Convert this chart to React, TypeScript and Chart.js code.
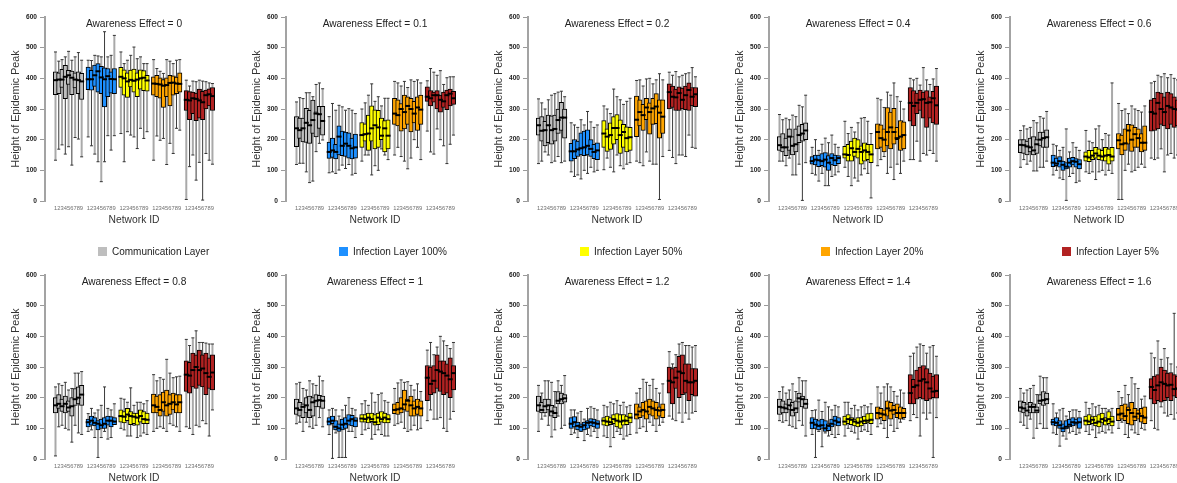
import React, { useEffect, useRef } from 'react';
import { Chart, registerables } from 'chart.js';

Chart.register(...registerables);

const FONT = '"Liberation Sans", Arial, Helvetica, sans-serif';
Chart.defaults.font.family = FONT;

// ---------- labels ----------
const groupNames = ['Communication Layer', 'Infection Layer 100%', 'Infection Layer 50%', 'Infection Layer 20%', 'Infection Layer 5%'];
const groupColors = ['#BEBEBE', '#1E90FF', '#FFFF00', '#FFA500', '#B22222'];
const networkIds = ['1', '2', '3', '4', '5', '6', '7', '8', '9'];
const awarenessEffects = ['0', '0.1', '0.2', '0.4', '0.6', '0.8', '1', '1.2', '1.4', '1.6'];
const yTickValues = [0, 100, 200, 300, 400, 500, 600];
const yTitle = 'Height of Epidemic Peak';
const xTitle = 'Network ID';

type Stats = { lo: number[]; q1: number[]; med: number[]; q3: number[]; hi: number[] };

// ---------- Awareness Effect = 0 ----------
const ae00_comm: Stats = { lo: [133, 169, 183, 153, 177, 117, 207, 202, 144], q1: [347, 350, 370, 334, 380, 347, 369, 350, 331], med: [394, 396, 396, 405, 410, 402, 396, 394, 390], q3: [421, 418, 429, 442, 426, 424, 418, 421, 416], hi: [486, 456, 461, 470, 488, 459, 470, 484, 459] };
const ae00_i100: Stats = { lo: [209, 180, 153, 128, 63, 128, 213, 166, 213], q1: [363, 361, 374, 355, 350, 307, 340, 352, 350], med: [397, 397, 410, 423, 403, 397, 407, 398, 397], q3: [437, 426, 443, 448, 439, 434, 432, 421, 432], hi: [459, 458, 475, 473, 470, 552, 470, 475, 540] };
const ae00_i50: Stats = { lo: [220, 128, 226, 215, 209, 171, 237, 204, 226], q1: [370, 345, 338, 372, 355, 340, 365, 360, 358], med: [405, 400, 390, 395, 392, 396, 400, 402, 393], q3: [436, 428, 418, 427, 430, 418, 428, 425, 410], hi: [486, 448, 459, 475, 502, 464, 470, 448, 448] };
const ae00_i20: Stats = { lo: [133, 212, 198, 204, 119, 188, 155, 237, 231], q1: [345, 340, 335, 305, 340, 310, 345, 350, 355], med: [383, 382, 380, 376, 378, 385, 386, 383, 382], q3: [405, 410, 402, 396, 402, 410, 408, 404, 418], hi: [461, 432, 423, 416, 461, 456, 448, 459, 461] };
const ae00_i5: Stats = { lo: [5, 112, 150, 68, 126, 3, 155, 133, 120], q1: [295, 265, 285, 262, 270, 265, 300, 310, 295], med: [330, 328, 335, 333, 328, 322, 345, 348, 342], q3: [360, 357, 355, 352, 365, 358, 362, 366, 370], hi: [394, 375, 391, 389, 394, 391, 389, 385, 383] };

// ---------- Awareness Effect = 0.1 ----------
const ae01_comm: Stats = { lo: [119, 123, 123, 95, 60, 65, 161, 188, 199], q1: [177, 204, 193, 191, 188, 220, 209, 237, 215], med: [237, 231, 237, 255, 247, 264, 285, 283, 261], q3: [275, 270, 270, 302, 296, 329, 291, 309, 309], hi: [323, 337, 334, 353, 353, 340, 380, 385, 366] };
const ae01_i100: Stats = { lo: [92, 95, 90, 101, 117, 106, 119, 85, 90], q1: [139, 142, 137, 150, 148, 145, 140, 137, 140], med: [160, 165, 160, 210, 180, 187, 180, 172, 175], q3: [192, 205, 185, 245, 228, 225, 222, 205, 218], hi: [275, 318, 296, 312, 307, 296, 301, 296, 285] };
const ae01_i50: Stats = { lo: [130, 150, 150, 85, 115, 100, 170, 150, 135], q1: [175, 195, 165, 195, 170, 175, 200, 160, 170], med: [215, 218, 220, 237, 247, 240, 213, 237, 213], q3: [256, 252, 280, 310, 297, 296, 270, 262, 265], hi: [300, 320, 345, 382, 325, 340, 310, 335, 335] };
const ae01_i20: Stats = { lo: [150, 175, 145, 130, 105, 140, 200, 175, 135], q1: [250, 245, 228, 235, 250, 225, 255, 230, 250], med: [285, 280, 300, 290, 310, 300, 285, 305, 298], q3: [335, 330, 318, 345, 340, 335, 325, 340, 345], hi: [390, 385, 375, 390, 370, 395, 390, 395, 385] };
const ae01_i5: Stats = { lo: [228, 160, 153, 235, 200, 180, 122, 185, 215], q1: [325, 310, 322, 300, 290, 305, 298, 310, 315], med: [340, 335, 345, 345, 330, 325, 345, 350, 335], q3: [372, 360, 355, 360, 345, 355, 362, 365, 358], hi: [392, 432, 420, 410, 425, 380, 402, 405, 405] };

// ---------- Awareness Effect = 0.2 ----------
const ae02_comm: Stats = { lo: [122, 130, 160, 150, 125, 130, 145, 125, 130], q1: [215, 195, 180, 190, 185, 195, 220, 230, 205], med: [247, 229, 231, 247, 231, 235, 264, 272, 272], q3: [270, 275, 260, 280, 278, 280, 300, 322, 300], hi: [333, 320, 300, 330, 345, 350, 355, 358, 340] };
const ae02_i100: Stats = { lo: [95, 80, 85, 72, 100, 90, 110, 95, 100], q1: [130, 138, 145, 150, 148, 150, 145, 138, 135], med: [162, 162, 168, 172, 175, 180, 170, 160, 165], q3: [188, 200, 195, 222, 228, 232, 200, 185, 190], hi: [255, 248, 240, 265, 248, 292, 258, 240, 248] };
const ae02_i50: Stats = { lo: [102, 140, 110, 95, 150, 115, 105, 120, 125], q1: [175, 162, 168, 185, 200, 155, 175, 160, 165], med: [220, 210, 215, 238, 238, 215, 225, 205, 208], q3: [262, 235, 255, 275, 282, 265, 250, 242, 240], hi: [310, 300, 285, 365, 340, 330, 315, 325, 335] };
const ae02_i20: Stats = { lo: [130, 125, 115, 160, 130, 120, 120, 5, 145], q1: [210, 245, 230, 265, 218, 250, 252, 205, 220], med: [265, 290, 280, 305, 290, 302, 308, 288, 275], q3: [342, 330, 315, 335, 320, 335, 350, 330, 330], hi: [393, 395, 375, 398, 400, 382, 395, 415, 395] };
const ae02_i5: Stats = { lo: [165, 142, 122, 150, 150, 145, 215, 175, 172], q1: [300, 305, 295, 295, 300, 298, 295, 310, 308], med: [355, 340, 338, 352, 330, 345, 362, 340, 348], q3: [382, 375, 365, 372, 368, 375, 385, 370, 370], hi: [420, 410, 422, 405, 410, 415, 418, 435, 405] };

// ---------- Awareness Effect = 0.4 ----------
const ae04_comm: Stats = { lo: [130, 130, 115, 140, 85, 85, 120, 2, 125], q1: [165, 160, 148, 165, 150, 160, 190, 195, 200], med: [182, 175, 175, 210, 180, 185, 215, 220, 230], q3: [210, 220, 205, 235, 210, 235, 245, 250, 255], hi: [282, 265, 270, 265, 280, 275, 312, 307, 345] };
const ae04_i100: Stats = { lo: [90, 85, 65, 90, 50, 50, 80, 85, 95], q1: [120, 118, 112, 115, 110, 100, 118, 115, 122], med: [130, 135, 133, 130, 135, 125, 140, 133, 140], q3: [145, 150, 150, 155, 158, 148, 155, 150, 148], hi: [175, 200, 165, 185, 205, 190, 215, 185, 175] };
const ae04_i50: Stats = { lo: [110, 80, 50, 75, 65, 85, 105, 90, 10], q1: [140, 130, 130, 145, 140, 120, 130, 135, 125], med: [152, 150, 172, 160, 170, 160, 165, 160, 152], q3: [178, 185, 195, 205, 200, 180, 190, 185, 185], hi: [260, 220, 240, 225, 255, 270, 272, 260, 220] };
const ae04_i20: Stats = { lo: [115, 135, 145, 90, 110, 70, 120, 90, 130], q1: [170, 175, 160, 180, 170, 185, 200, 165, 170], med: [225, 205, 200, 225, 240, 225, 205, 210, 215], q3: [252, 248, 235, 305, 290, 302, 240, 262, 258], hi: [335, 330, 305, 355, 345, 385, 340, 325, 300] };
const ae04_i5: Stats = { lo: [135, 135, 195, 130, 155, 150, 165, 155, 130], q1: [260, 245, 285, 295, 270, 240, 270, 255, 250], med: [320, 310, 320, 330, 332, 320, 322, 335, 312], q3: [370, 360, 352, 362, 355, 360, 340, 358, 375], hi: [400, 395, 400, 378, 435, 395, 380, 398, 432] };

// ---------- Awareness Effect = 0.6 ----------
const ae06_comm: Stats = { lo: [110, 135, 120, 130, 98, 98, 110, 110, 130], q1: [158, 155, 150, 160, 150, 155, 180, 175, 175], med: [183, 182, 178, 175, 165, 185, 200, 205, 208], q3: [200, 200, 195, 205, 210, 200, 225, 225, 232], hi: [230, 245, 235, 240, 262, 255, 275, 270, 292] };
const ae06_i100: Stats = { lo: [85, 100, 75, 70, 2, 80, 90, 60, 65], q1: [112, 115, 110, 100, 105, 110, 118, 110, 105], med: [125, 122, 130, 118, 112, 125, 130, 128, 120], q3: [150, 140, 145, 130, 125, 140, 142, 138, 135], hi: [185, 180, 165, 175, 235, 160, 190, 175, 165] };
const ae06_i50: Stats = { lo: [95, 90, 95, 70, 95, 100, 85, 100, 90], q1: [130, 128, 135, 140, 135, 132, 130, 120, 130], med: [145, 142, 148, 155, 148, 145, 148, 150, 145], q3: [160, 165, 165, 175, 170, 165, 175, 170, 175], hi: [230, 195, 190, 235, 245, 200, 220, 215, 385] };
const ae06_i20: Stats = { lo: [5, 5, 100, 120, 95, 100, 110, 120, 110], q1: [170, 150, 165, 185, 162, 175, 175, 160, 165], med: [198, 185, 188, 230, 200, 218, 205, 190, 190], q3: [220, 215, 235, 250, 248, 240, 235, 220, 245], hi: [318, 295, 300, 285, 310, 300, 295, 290, 310] };
const ae06_i5: Stats = { lo: [140, 135, 140, 170, 95, 150, 155, 140, 150], q1: [228, 230, 235, 250, 245, 235, 250, 240, 245], med: [290, 285, 320, 300, 290, 310, 305, 300, 298], q3: [330, 335, 355, 352, 340, 355, 350, 340, 330], hi: [385, 390, 410, 405, 415, 402, 412, 400, 395] };

// ---------- Awareness Effect = 0.8 ----------
const ae08_comm: Stats = { lo: [10, 105, 110, 100, 95, 55, 110, 85, 80], q1: [150, 165, 155, 150, 155, 140, 175, 180, 175], med: [175, 180, 172, 180, 168, 172, 195, 200, 210], q3: [200, 210, 195, 205, 190, 200, 230, 235, 240], hi: [235, 245, 240, 250, 225, 230, 280, 280, 285] };
const ae08_i100: Stats = { lo: [90, 95, 70, 5, 70, 90, 65, 70, 115], q1: [105, 110, 108, 95, 100, 100, 110, 105, 112], med: [120, 125, 118, 115, 110, 115, 125, 125, 122], q3: [130, 140, 135, 125, 130, 135, 140, 138, 135], hi: [148, 165, 150, 160, 175, 235, 165, 160, 180] };
const ae08_i50: Stats = { lo: [100, 95, 75, 75, 110, 70, 75, 85, 80], q1: [120, 118, 125, 112, 115, 110, 120, 115, 115], med: [140, 138, 145, 140, 138, 135, 140, 130, 128], q3: [160, 155, 165, 155, 150, 150, 160, 155, 150], hi: [198, 195, 185, 232, 175, 185, 185, 180, 190] };
const ae08_i20: Stats = { lo: [90, 100, 105, 100, 90, 115, 110, 105, 90], q1: [150, 150, 140, 155, 140, 145, 160, 150, 150], med: [175, 170, 160, 185, 175, 180, 185, 178, 185], q3: [212, 205, 210, 218, 225, 210, 215, 210, 210], hi: [275, 255, 265, 260, 325, 280, 265, 268, 270] };
const ae08_i5: Stats = { lo: [105, 100, 80, 110, 105, 125, 115, 75, 160], q1: [220, 215, 235, 230, 240, 235, 210, 230, 225], med: [275, 272, 290, 300, 290, 295, 280, 268, 282], q3: [320, 315, 345, 340, 355, 340, 345, 330, 340], hi: [390, 370, 395, 418, 380, 380, 378, 375, 375] };

// ---------- Awareness Effect = 1 ----------
const ae10_comm: Stats = { lo: [115, 120, 90, 120, 105, 100, 110, 135, 105], q1: [145, 140, 135, 150, 135, 140, 170, 170, 165], med: [165, 160, 170, 175, 160, 185, 190, 192, 190], q3: [195, 185, 180, 200, 205, 200, 210, 208, 205], hi: [245, 250, 230, 225, 255, 245, 240, 270, 255] };
const ae10_i100: Stats = { lo: [80, 2, 85, 5, 5, 5, 90, 90, 70], q1: [110, 115, 95, 90, 95, 100, 110, 108, 105], med: [122, 125, 105, 100, 112, 115, 125, 130, 125], q3: [135, 140, 125, 115, 130, 135, 145, 142, 135], hi: [160, 165, 160, 140, 160, 175, 200, 165, 160] };
const ae10_i50: Stats = { lo: [80, 95, 100, 65, 80, 95, 80, 75, 75], q1: [120, 120, 118, 122, 110, 112, 120, 118, 118], med: [132, 130, 135, 130, 120, 135, 130, 135, 130], q3: [145, 145, 150, 150, 145, 150, 155, 150, 145], hi: [180, 190, 175, 215, 185, 210, 215, 190, 185] };
const ae10_i20: Stats = { lo: [110, 115, 120, 100, 90, 95, 110, 95, 100], q1: [148, 145, 150, 160, 155, 140, 140, 145, 140], med: [160, 162, 165, 178, 190, 175, 165, 170, 165], q3: [180, 185, 200, 225, 195, 205, 190, 195, 190], hi: [230, 248, 258, 250, 252, 240, 225, 245, 220] };
const ae10_i5: Stats = { lo: [125, 160, 130, 130, 135, 100, 90, 130, 155], q1: [190, 210, 215, 230, 220, 210, 215, 200, 225], med: [265, 245, 255, 290, 285, 280, 272, 260, 280], q3: [305, 300, 305, 340, 320, 320, 310, 330, 305], hi: [355, 380, 340, 365, 400, 385, 370, 360, 380] };

// ---------- Awareness Effect = 1.2 ----------
const ae12_comm: Stats = { lo: [90, 130, 140, 110, 72, 95, 140, 100, 110], q1: [155, 150, 150, 160, 140, 135, 180, 180, 185], med: [175, 160, 172, 175, 155, 150, 190, 195, 198], q3: [205, 185, 195, 195, 175, 170, 220, 215, 210], hi: [240, 215, 255, 255, 250, 220, 255, 240, 272] };
const ae12_i100: Stats = { lo: [80, 85, 70, 90, 60, 80, 75, 90, 70], q1: [100, 105, 95, 90, 95, 100, 108, 105, 100], med: [115, 120, 108, 105, 110, 118, 120, 118, 115], q3: [135, 138, 120, 115, 120, 125, 132, 130, 125], hi: [160, 160, 150, 155, 130, 165, 170, 165, 160] };
const ae12_i50: Stats = { lo: [75, 70, 40, 70, 90, 80, 65, 75, 80], q1: [110, 108, 112, 115, 105, 100, 110, 112, 118], med: [125, 122, 120, 130, 125, 122, 125, 125, 135], q3: [135, 140, 135, 145, 148, 145, 145, 140, 150], hi: [175, 170, 185, 180, 190, 175, 185, 170, 175] };
const ae12_i20: Stats = { lo: [85, 100, 105, 90, 120, 110, 90, 110, 120], q1: [130, 135, 140, 130, 145, 140, 130, 140, 135], med: [145, 155, 160, 155, 170, 165, 160, 158, 160], q3: [180, 170, 185, 190, 195, 190, 185, 170, 180], hi: [215, 230, 260, 250, 240, 260, 230, 215, 245] };
const ae12_i5: Stats = { lo: [140, 130, 125, 150, 120, 150, 130, 150, 155], q1: [215, 180, 230, 200, 210, 215, 190, 210, 205], med: [255, 250, 265, 285, 280, 255, 250, 250, 255], q3: [300, 295, 300, 335, 340, 310, 310, 295, 295], hi: [350, 310, 340, 375, 380, 370, 370, 365, 370] };

// ---------- Awareness Effect = 1.4 ----------
const ae14_comm: Stats = { lo: [125, 120, 125, 110, 105, 100, 125, 110, 75], q1: [145, 150, 150, 160, 140, 150, 185, 170, 165], med: [170, 168, 165, 175, 160, 165, 198, 195, 180], q3: [195, 190, 180, 195, 185, 190, 215, 205, 195], hi: [220, 235, 215, 225, 245, 220, 265, 255, 255] };
const ae14_i100: Stats = { lo: [80, 5, 90, 40, 85, 75, 80, 70, 80], q1: [98, 100, 95, 100, 90, 92, 105, 110, 108], med: [118, 112, 108, 110, 100, 108, 115, 125, 120], q3: [135, 130, 125, 130, 125, 115, 130, 140, 135], hi: [158, 160, 192, 155, 185, 170, 160, 175, 170] };
const ae14_i50: Stats = { lo: [75, 100, 90, 85, 65, 90, 95, 90, 80], q1: [110, 115, 112, 108, 105, 108, 115, 118, 115], med: [122, 130, 128, 122, 118, 122, 125, 125, 128], q3: [140, 145, 135, 130, 135, 135, 140, 148, 150], hi: [185, 185, 165, 175, 160, 170, 175, 170, 180] };
const ae14_i20: Stats = { lo: [105, 115, 100, 70, 110, 90, 100, 120, 130], q1: [130, 135, 125, 140, 130, 145, 135, 130, 135], med: [150, 148, 145, 165, 158, 160, 150, 150, 150], q3: [170, 165, 160, 190, 185, 175, 180, 170, 165], hi: [235, 215, 235, 245, 235, 220, 205, 225, 215] };
const ae14_i5: Stats = { lo: [125, 145, 135, 75, 150, 130, 150, 5, 135], q1: [180, 180, 195, 200, 195, 190, 195, 200, 198], med: [215, 235, 240, 255, 260, 250, 230, 220, 222], q3: [275, 260, 290, 300, 305, 295, 280, 270, 275], hi: [335, 345, 365, 375, 370, 345, 365, 370, 335] };

// ---------- Awareness Effect = 1.6 ----------
const ae16_comm: Stats = { lo: [120, 110, 100, 130, 68, 100, 115, 100, 100], q1: [155, 150, 140, 150, 150, 150, 180, 175, 180], med: [168, 165, 158, 170, 170, 158, 190, 192, 195], q3: [190, 185, 180, 185, 180, 170, 210, 220, 215], hi: [230, 215, 225, 230, 240, 210, 270, 265, 265] };
const ae16_i100: Stats = { lo: [85, 80, 42, 75, 65, 85, 90, 80, 85], q1: [110, 108, 100, 88, 98, 105, 108, 110, 100], med: [120, 118, 110, 100, 105, 112, 120, 118, 120], q3: [130, 135, 125, 115, 125, 130, 135, 130, 135], hi: [180, 150, 160, 165, 140, 155, 160, 160, 155] };
const ae16_i50: Stats = { lo: [90, 80, 95, 70, 85, 90, 85, 95, 85], q1: [110, 112, 115, 108, 105, 118, 110, 115, 108], med: [125, 122, 128, 118, 122, 130, 125, 130, 122], q3: [140, 145, 138, 140, 145, 150, 135, 155, 140], hi: [185, 165, 180, 170, 175, 165, 165, 160, 165] };
const ae16_i20: Stats = { lo: [100, 120, 80, 70, 95, 85, 80, 100, 95], q1: [125, 130, 125, 115, 110, 125, 130, 120, 115], med: [145, 148, 140, 160, 150, 138, 148, 140, 135], q3: [165, 175, 180, 170, 185, 165, 160, 165, 170], hi: [220, 200, 240, 210, 265, 245, 230, 195, 205] };
const ae16_i5: Stats = { lo: [125, 100, 95, 170, 150, 140, 145, 130, 150], q1: [195, 180, 190, 185, 190, 200, 190, 205, 200], med: [235, 225, 240, 250, 245, 240, 242, 228, 230], q3: [262, 270, 275, 300, 290, 280, 282, 275, 270], hi: [345, 330, 385, 325, 360, 330, 310, 475, 300] };

const panelGroups: Stats[][] = [
  [ae00_comm, ae00_i100, ae00_i50, ae00_i20, ae00_i5],
  [ae01_comm, ae01_i100, ae01_i50, ae01_i20, ae01_i5],
  [ae02_comm, ae02_i100, ae02_i50, ae02_i20, ae02_i5],
  [ae04_comm, ae04_i100, ae04_i50, ae04_i20, ae04_i5],
  [ae06_comm, ae06_i100, ae06_i50, ae06_i20, ae06_i5],
  [ae08_comm, ae08_i100, ae08_i50, ae08_i20, ae08_i5],
  [ae10_comm, ae10_i100, ae10_i50, ae10_i20, ae10_i5],
  [ae12_comm, ae12_i100, ae12_i50, ae12_i20, ae12_i5],
  [ae14_comm, ae14_i100, ae14_i50, ae14_i20, ae14_i5],
  [ae16_comm, ae16_i100, ae16_i50, ae16_i20, ae16_i5],
];

// ---------- layout ----------
const PANEL_W = 241;
const PANEL_H = 226;
const ROW_TOPS = [0, 258];
const GROUP_STRIDE = 10;

const boxPlugin = {
  id: 'boxParts',
  beforeDatasetsDraw(chart: any) {
    const { ctx, scales } = chart;
    const xs = scales.x, ys = scales.y;
    ctx.save();
    chart.data.datasets.forEach((ds: any, g: number) => {
      const s: Stats = ds.stats;
      s.med.forEach((_: number, k: number) => {
        const px = xs.getPixelForValue(g * GROUP_STRIDE + k);
        const yl = ys.getPixelForValue(s.lo[k]);
        const yh = ys.getPixelForValue(s.hi[k]);
        const light = k % 2 === 0;
        ctx.strokeStyle = light ? '#a9a9a9' : '#3a3a3a';
        ctx.lineWidth = light ? 2 : 1;
        ctx.beginPath();
        ctx.moveTo(px, yl);
        ctx.lineTo(px, yh);
        ctx.stroke();
        ctx.strokeStyle = '#333';
        ctx.lineWidth = 1;
        ctx.beginPath();
        ctx.moveTo(px - 1.5, yl);
        ctx.lineTo(px + 1.5, yl);
        ctx.moveTo(px - 1.5, yh);
        ctx.lineTo(px + 1.5, yh);
        ctx.stroke();
      });
    });
    ctx.restore();
  },
  afterDatasetsDraw(chart: any) {
    const { ctx, scales } = chart;
    const xs = scales.x, ys = scales.y;
    ctx.save();
    ctx.strokeStyle = '#000';
    ctx.lineWidth = 2;
    chart.data.datasets.forEach((ds: any, g: number) => {
      const s: Stats = ds.stats;
      s.med.forEach((m: number, k: number) => {
        const px = xs.getPixelForValue(g * GROUP_STRIDE + k);
        const py = ys.getPixelForValue(m);
        ctx.beginPath();
        ctx.moveTo(px - 2.5, py);
        ctx.lineTo(px + 2.5, py);
        ctx.stroke();
      });
    });
    ctx.restore();
  },
  afterDraw(chart: any) {
    const { ctx, scales, chartArea } = chart;
    const xs = scales.x;
    const title = chart.options.plugins.boxParts.title;
    ctx.save();
    ctx.textAlign = 'center';
    ctx.textBaseline = 'middle';
    const cx = xs.getPixelForValue(2 * GROUP_STRIDE + 4);
    ctx.fillStyle = '#222';
    ctx.font = `10.2px ${FONT}`;
    ctx.fillText(title, cx, 24);
    ctx.fillStyle = '#707070';
    ctx.font = `5.8px ${FONT}`;
    groupNames.forEach((_, g) => {
      ctx.fillText(networkIds.join(''), xs.getPixelForValue(g * GROUP_STRIDE + 4), chartArea.bottom + 7);
    });
    ctx.fillStyle = '#333';
    ctx.font = `10.3px ${FONT}`;
    ctx.fillText(xTitle, cx, chartArea.bottom + 19);
    ctx.restore();
  },
};

function Panel({ idx }: { idx: number }) {
  const ref = useRef<HTMLCanvasElement>(null);
  useEffect(() => {
    const groups = panelGroups[idx];
    const datasets = groups.map((s, g) => ({
      label: groupNames[g],
      data: s.med.map((_, k) => ({ x: g * GROUP_STRIDE + k, y: [s.q1[k], s.q3[k]] })),
      backgroundColor: groupColors[g],
      borderColor: '#000',
      borderWidth: 1,
      borderSkipped: false,
      barThickness: 4.4,
      grouped: false,
      stats: s,
    }));
    const chart = new Chart(ref.current as HTMLCanvasElement, {
      type: 'bar',
      data: { datasets } as any,
      options: {
        responsive: false,
        animation: false,
        events: [],
        layout: { padding: { top: 17, bottom: 25, left: 0, right: 0 } },
        plugins: {
          legend: { display: false },
          tooltip: { enabled: false },
          boxParts: { title: `Awareness Effect = ${awarenessEffects[idx]}` },
        } as any,
        scales: {
          x: { type: 'linear', display: false, min: -3.21, max: 56.73, offset: false },
          y: {
            min: 0,
            max: 600,
            afterBuildTicks: (s: any) => { s.ticks = yTickValues.map((v) => ({ value: v })); },
            afterFit: (s: any) => { s.width = 45; },
            ticks: { font: { size: 6.6, weight: 'bold' }, color: '#222', padding: 3 },
            grid: { drawOnChartArea: false, drawTicks: true, tickLength: 5, color: '#9a9a9a' },
            border: { display: true, color: '#a3a3a3', width: 2 },
            title: { display: true, text: yTitle, font: { size: 10.7 }, color: '#333', padding: { top: 10, bottom: 0 } },
          },
        },
      } as any,
      plugins: [boxPlugin as any],
    });
    return () => chart.destroy();
  }, [idx]);
  const col = idx % 5;
  const row = Math.floor(idx / 5);
  return (
    <canvas
      ref={ref}
      width={PANEL_W}
      height={PANEL_H}
      style={{ position: 'absolute', left: Math.round(col * 241.25), top: ROW_TOPS[row], width: PANEL_W, height: PANEL_H }}
    />
  );
}

function Legend() {
  return (
    <>
      {groupNames.map((name, g) => {
        const sq = Math.round(97.5 + g * 241);
        return (
          <React.Fragment key={name}>
            <div style={{ position: 'absolute', left: sq, top: 247, width: 9, height: 9, background: groupColors[g] }} />
            <div
              style={{
                position: 'absolute',
                left: sq + 14,
                top: 245,
                height: 14,
                lineHeight: '14px',
                fontSize: 10,
                fontFamily: FONT,
                color: '#222',
                whiteSpace: 'nowrap',
              }}
            >
              {name}
            </div>
          </React.Fragment>
        );
      })}
    </>
  );
}

export default function App() {
  return (
    <div style={{ position: 'absolute', left: 0, top: 0, width: 1177, height: 483, overflow: 'hidden', background: '#fff' }}>
      {panelGroups.map((_, i) => (
        <Panel key={i} idx={i} />
      ))}
      <Legend />
    </div>
  );
}
